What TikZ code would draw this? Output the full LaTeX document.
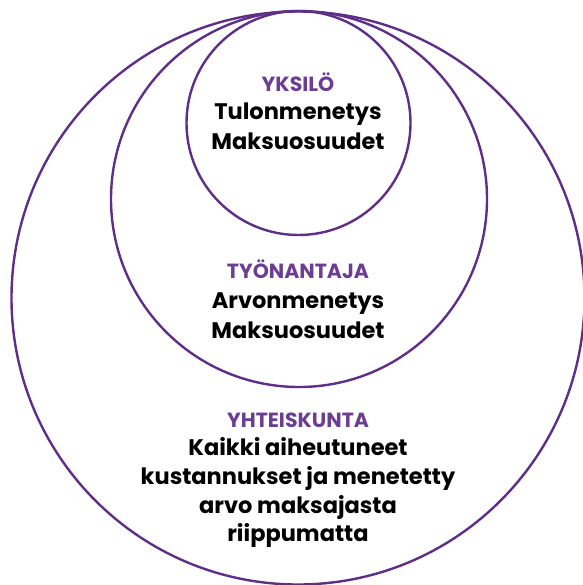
\documentclass[tikz,border=0pt]{standalone}
\usepackage{fontspec}
\setmainfont{Poppins}
\definecolor{ring}{HTML}{5E2F86}
\definecolor{ttl}{HTML}{6C3E92}
\begin{document}
\begin{tikzpicture}[x=1pt,y=-1pt,
  ringline/.style={draw=ring,line width=2.4pt},
  title/.style={anchor=base,text=ttl,font=\fontsize{20.5}{24}\selectfont\bfseries,inner sep=0pt},
  body/.style={anchor=base,text=black,font=\fontsize{22.5}{27}\selectfont\bfseries,inner sep=0pt}]
\useasboundingbox (0,0) rectangle (582,585);
\draw[ringline] (298,298) circle[radius=286.5];
\draw[ringline] (299,199) circle[radius=188];
\draw[ringline] (298.5,123) circle[radius=112];
\node[title] (t1) at (298,92) {YKSILÖ};
\node[body] (b1a) at (298,120) {Tulonmenetys};
\node[body] (b1b) at (298,150) {Maksuosuudet};
\node[title] (t2) at (298,278) {TYÖNANTAJA};
\node[body] (b2a) at (298,308) {Arvonmenetys};
\node[body] (b2b) at (298,338) {Maksuosuudet};
\node[title] (t3) at (298,427) {YHTEISKUNTA};
\node[body] (b3a) at (298,455) {Kaikki aiheutuneet};
\node[body] (b3b) at (298,484) {kustannukset ja menetetty};
\node[body] (b3c) at (298,513) {arvo maksajasta};
\node[body] (b3d) at (298,541) {riippumatta};
\end{tikzpicture}
\end{document}
